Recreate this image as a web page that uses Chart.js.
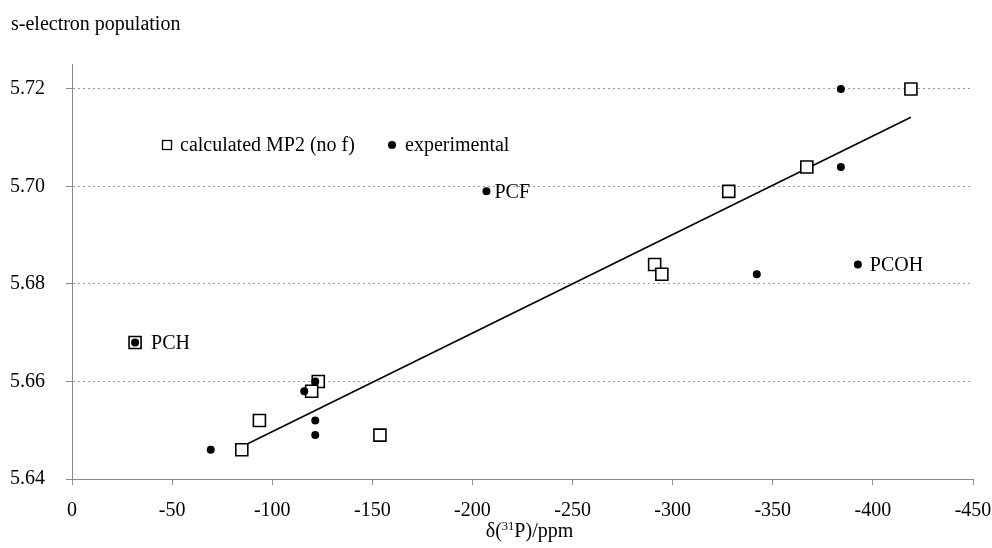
<!DOCTYPE html>
<html>
<head>
<meta charset="utf-8">
<script src="https://cdn.jsdelivr.net/npm/chart.js@4.4.1/dist/chart.umd.min.js"></script>
<style>
  html, body { margin: 0; padding: 0; background: #fff; }
  canvas { display: block; }
</style>
</head>
<body>
<canvas id="chart" width="992" height="548"></canvas>
<script>
// calculated MP2 (no f) -- open squares
const calcX = [-419, -367, -328, -291, -294.6, -123, -119.7, -93.6, -84.8, -153.8, -31.5];
const calcY = [5.720, 5.704, 5.699, 5.684, 5.682, 5.660, 5.658, 5.652, 5.646, 5.649, 5.668];

// experimental -- filled dots
const expX = [-384, -384, -342, -392.5, -207, -121.5, -116, -121.5, -121.5, -69.3, -31.5];
const expY = [5.720, 5.704, 5.682, 5.684, 5.699, 5.660, 5.658, 5.652, 5.649, 5.646, 5.668];

// regression line end points
const fitX = [-84.7, -419];
const fitY = [5.6466, 5.7142];

// named points
const pointNames = ["PCH", "PCF", "PCOH"];
const pointNameX = [-31.5, -207, -392.5];
const pointNameY = [5.668, 5.699, 5.684];

const xTicks = [0, -50, -100, -150, -200, -250, -300, -350, -400, -450];
const yTicks = [5.64, 5.66, 5.68, 5.70, 5.72];

const FONT = '"Liberation Serif", "Times New Roman", serif';
const AXIS_GREY = "#8a8a8a";

const toPoints = (xs, ys) => xs.map((x, i) => ({ x, y: ys[i] }));

// title, in-plot legend, point names and x axis title
const annotations = {
  id: "annotations",
  afterDraw(chart) {
    const { ctx, chartArea, scales } = chart;
    ctx.save();
    ctx.fillStyle = "#000";
    ctx.font = "20px " + FONT;
    ctx.textBaseline = "alphabetic";
    ctx.textAlign = "left";
    ctx.fillText("s-electron population", 11, 30);

    // legend
    ctx.lineWidth = 1.3;
    ctx.strokeStyle = "#000";
    ctx.fillStyle = "#fff";
    ctx.fillRect(162.5, 140.5, 9, 9);
    ctx.strokeRect(162.5, 140.5, 9, 9);
    ctx.fillStyle = "#000";
    ctx.fillText("calculated MP2 (no f)", 180, 151);
    ctx.beginPath();
    ctx.arc(392, 145, 4, 0, Math.PI * 2);
    ctx.fill();
    ctx.fillText("experimental", 405, 151);

    // names beside points
    ctx.textBaseline = "middle";
    pointNames.forEach((name, i) => {
      const px = scales.x.getPixelForValue(pointNameX[i]);
      const py = scales.y.getPixelForValue(pointNameY[i]);
      const dx = name === "PCH" ? 16 : name === "PCF" ? 8 : 12;
      ctx.fillText(name, px + dx, py + 1);
    });

    // x axis title with superscript
    ctx.textBaseline = "alphabetic";
    const parts = [["δ(", 20, 0], ["31", 12.5, -7.5], ["P)/ppm", 20, 0]];
    let w = 0;
    parts.forEach(([t, s]) => { ctx.font = s + "px " + FONT; w += ctx.measureText(t).width; });
    let x = (chartArea.left + chartArea.right) / 2 + 7 - w / 2;
    parts.forEach(([t, s, dy]) => {
      ctx.font = s + "px " + FONT;
      ctx.fillText(t, x, 537 + dy);
      x += ctx.measureText(t).width;
    });
    ctx.restore();
  }
};

new Chart(document.getElementById("chart"), {
  type: "scatter",
  data: {
    datasets: [
      {
        label: "experimental",
        data: toPoints(expX, expY),
        pointStyle: "circle",
        pointRadius: 4,
        backgroundColor: "#000",
        borderColor: "#000",
        borderWidth: 0,
        order: 0
      },
      {
        label: "calculated MP2 (no f)",
        data: toPoints(calcX, calcY),
        pointStyle: "rect",
        pointRadius: 8.5,
        backgroundColor: "#fff",
        borderColor: "#000",
        borderWidth: 1.6,
        order: 1
      },
      {
        label: "fit",
        data: toPoints(fitX, fitY),
        showLine: true,
        borderColor: "#000",
        borderWidth: 1.6,
        pointRadius: 0,
        order: 2
      }
    ]
  },
  options: {
    responsive: false,
    devicePixelRatio: 1,
    animation: false,
    events: [],
    layout: { padding: { top: 64.6, right: 19, bottom: 0, left: 0 } },
    plugins: { legend: { display: false }, tooltip: { enabled: false } },
    scales: {
      x: {
        type: "linear",
        min: -450,
        max: 0,
        reverse: true,
        afterBuildTicks: (s) => { s.ticks = xTicks.map((v) => ({ value: v })); },
        afterFit: (s) => { s.height = 69; s.paddingLeft = 0; s.paddingRight = 0; },
        grid: { drawOnChartArea: false, drawTicks: true, tickLength: 6, tickColor: AXIS_GREY, tickWidth: 1 },
        border: { display: true, color: AXIS_GREY, width: 1 },
        ticks: {
          color: "#000",
          font: { family: FONT, size: 20 },
          padding: 14,
          maxRotation: 0,
          autoSkip: false,
          callback: (v) => String(v)
        }
      },
      y: {
        type: "linear",
        min: 5.64,
        max: 5.725,
        afterBuildTicks: (s) => { s.ticks = yTicks.map((v) => ({ value: v })); },
        afterFit: (s) => { s.width = 72; },
        grid: {
          color: "#9a9a9a",
          lineWidth: 1,
          drawTicks: true,
          tickLength: 6,
          tickColor: AXIS_GREY,
          tickBorderDash: []
        },
        border: { display: true, color: AXIS_GREY, width: 1, dash: [2, 3] },
        ticks: {
          color: "#000",
          font: { family: FONT, size: 20 },
          padding: 21,
          autoSkip: false,
          callback: (v) => v.toFixed(2)
        }
      }
    }
  },
  plugins: [annotations]
});
</script>
</body>
</html>
